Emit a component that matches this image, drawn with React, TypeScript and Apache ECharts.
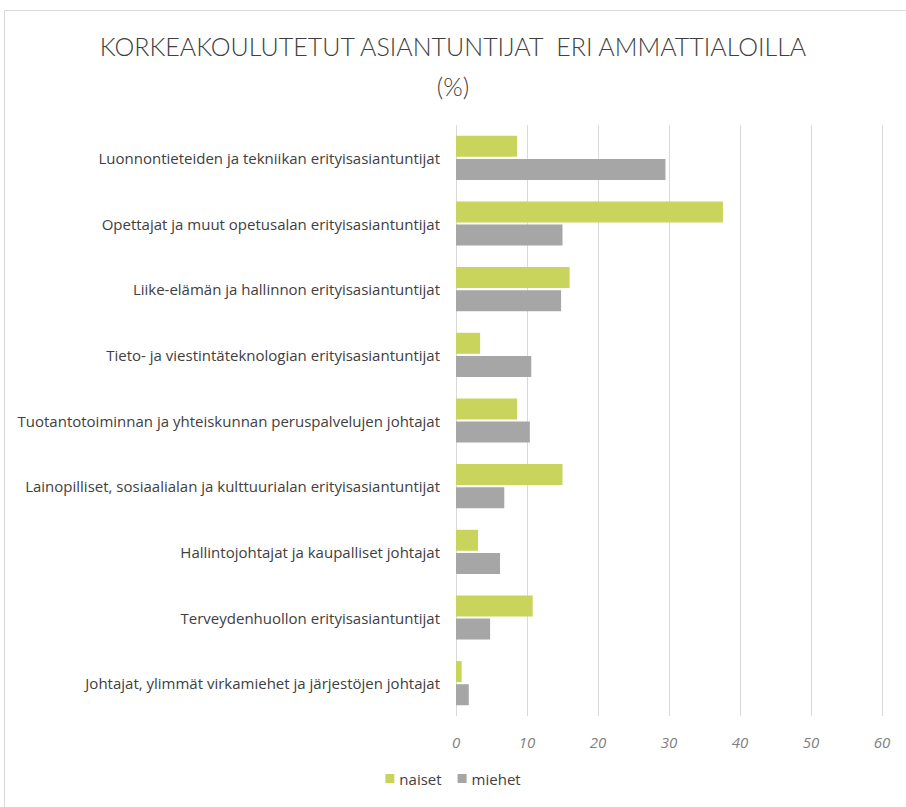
import React, { useEffect, useRef } from "react";
import * as echarts from "echarts";

const categories = [
  "Luonnontieteiden ja tekniikan erityisasiantuntijat",
  "Opettajat ja muut opetusalan erityisasiantuntijat",
  "Liike-elämän ja hallinnon erityisasiantuntijat",
  "Tieto- ja viestintäteknologian erityisasiantuntijat",
  "Tuotantotoiminnan ja yhteiskunnan peruspalvelujen johtajat",
  "Lainopilliset, sosiaalialan ja kulttuurialan erityisasiantuntijat",
  "Hallintojohtajat ja kaupalliset johtajat",
  "Terveydenhuollon erityisasiantuntijat",
  "Johtajat, ylimmät virkamiehet ja järjestöjen johtajat",
];
const naiset = [8.6, 37.6, 16.0, 3.4, 8.6, 15.0, 3.1, 10.8, 0.8];
const miehet = [29.5, 15.0, 14.8, 10.6, 10.4, 6.8, 6.2, 4.8, 1.8];

export default function App() {
  const ref = useRef<HTMLDivElement>(null);
  useEffect(() => {
    const chart = echarts.init(ref.current!, null, { renderer: "svg" });
    const font = "'Open Sans', 'Noto Sans', sans-serif";
    chart.setOption({
      animation: false,
      backgroundColor: "#ffffff",
      textStyle: { fontFamily: font },
      title: {
        text: "KORKEAKOULUTETUT ASIANTUNTIJAT  ERI AMMATTIALOILLA\n(%)",
        left: "center",
        top: 21,
        textStyle: {
          fontFamily: "Lato, 'Open Sans', sans-serif",
          fontWeight: 300,
          fontSize: 25,
          color: "#404040",
          lineHeight: 40,
          align: "center",
        },
      },
      graphic: [
        {
          type: "rect",
          shape: { x: 4.5, y: 10.5, width: 910, height: 810 },
          style: { fill: "none", stroke: "#d9d9d9", lineWidth: 1 },
          silent: true,
        },
      ],
      legend: {
        bottom: 16,
        left: "center",
        itemWidth: 9,
        itemHeight: 9,
        itemGap: 16,
        icon: "rect",
        textStyle: { color: "#404040", fontSize: 15, fontFamily: font },
        data: ["naiset", "miehet"],
      },
      grid: { left: 456, right: 24, top: 125, bottom: 91, containLabel: false },
      xAxis: {
        type: "value",
        min: 0,
        max: 60,
        interval: 10,
        axisLine: { show: false },
        axisTick: { show: false },
        splitLine: { lineStyle: { color: "#d9d9d9", width: 1 } },
        axisLabel: {
          color: "#7f7f7f",
          fontSize: 15,
          fontStyle: "italic",
          margin: 18,
          fontFamily: font,
        },
      },
      yAxis: {
        type: "category",
        inverse: true,
        data: categories,
        axisLine: { show: false },
        axisTick: { show: false },
        axisLabel: {
          color: "#404040",
          fontSize: 15,
          margin: 16,
          fontFamily: font,
        },
      },
      series: [
        {
          name: "naiset",
          type: "bar",
          data: naiset,
          barWidth: 21,
          barGap: "10%",
          itemStyle: { color: "#c9d45c" },
        },
        {
          name: "miehet",
          type: "bar",
          data: miehet,
          barWidth: 21,
          barGap: "10%",
          itemStyle: { color: "#a6a6a6" },
        },
      ],
    });
    return () => chart.dispose();
  }, []);
  return (
    <div
      ref={ref}
      style={{ position: "absolute", left: 0, top: 0, width: 906, height: 807 }}
    />
  );
}
